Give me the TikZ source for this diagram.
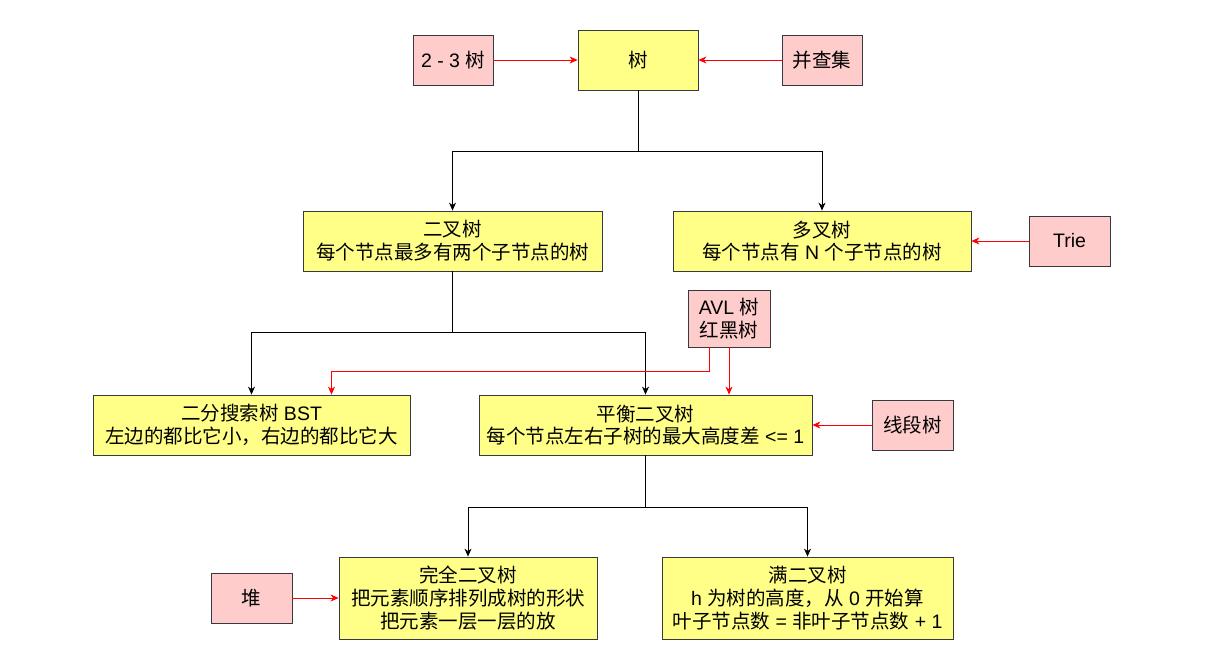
\documentclass[tikz,border=0pt]{standalone}
\usepackage{fontspec}
\setmainfont{Liberation Sans}
\newfontfamily\cjk{Noto Sans CJK SC}
\newcommand\zh[1]{{\cjk #1}}
\usetikzlibrary{arrows.meta}
\definecolor{yel}{HTML}{FFFF88}
\definecolor{pnk}{HTML}{FFCCCC}
\definecolor{bd}{HTML}{36393D}
\begin{document}
\begin{tikzpicture}[x=1pt,y=-1pt,
 box/.style={draw=bd, line width=0.8pt, inner sep=0pt, align=center, font=\fontsize{19.5}{22.8}\selectfont, anchor=center},
 ybox/.style={box, fill=yel},
 pbox/.style={box, fill=pnk},
 blk/.style={draw=black, line width=0.9pt, -{Stealth[length=8pt,width=7pt,inset=2.5pt]}},
 redarr/.style={draw=red, line width=0.8pt, -{Stealth[length=8pt,width=7pt,inset=2.5pt]}}
]
\useasboundingbox (0,0) rectangle (1206,670);
\node[ybox, minimum width=120pt, minimum height=60pt] (tree) at (638,60) {\zh{树}};
\node[pbox, minimum width=80pt, minimum height=50pt] (t23) at (453,60) {2 - 3 \zh{树}};
\node[pbox, minimum width=80pt, minimum height=50pt] (uf) at (822,60) {\zh{并查集}};
\node[ybox, minimum width=299pt, minimum height=60pt] (bin) at (452.5,241) {\zh{二叉树}\\\zh{每个节点最多有两个子节点的树}};
\node[ybox, minimum width=298pt, minimum height=60pt] (multi) at (822,241) {\zh{多叉树}\\\zh{每个节点有} N \zh{个子节点的树}};
\node[pbox, minimum width=81pt, minimum height=50pt] (trie) at (1069.5,241) {Trie};
\node[pbox, minimum width=82pt, minimum height=57pt] (avl) at (729,318.5) {AVL \zh{树}\\\zh{红黑树}};
\node[ybox, minimum width=317pt, minimum height=60pt] (bst) at (251.5,425) {\zh{二分搜索树} BST\\\zh{左边的都比它小，右边的都比它大}};
\node[ybox, minimum width=333pt, minimum height=60pt] (bal) at (645.5,425) {\zh{平衡二叉树}\\\zh{每个节点左右子树的最大高度差} <= 1};
\node[pbox, minimum width=81pt, minimum height=50pt] (seg) at (912.5,425) {\zh{线段树}};
\node[ybox, minimum width=258pt, minimum height=82pt] (full) at (468,598) {\zh{完全二叉树}\\\zh{把元素顺序排列成树的形状}\\\zh{把元素一层一层的放}};
\node[ybox, minimum width=291pt, minimum height=82pt] (fullb) at (807.5,598) {\zh{满二叉树}\\h \zh{为树的高度，从} 0 \zh{开始算}\\\zh{叶子节点数} = \zh{非叶子节点数} + 1};
\node[pbox, minimum width=81pt, minimum height=50pt] (heap) at (251.5,598) {\zh{堆}};
\draw[blk] (tree.south) -- ++(0,61) -| (bin.north);
\draw[blk] (tree.south) -- ++(0,61) -| (multi.north);
\draw[blk] (bin.south) -- ++(0,61) -| (bst.north);
\draw[blk] (bin.south) -- ++(0,61) -| (bal.north);
\draw[blk] (bal.south) -- ++(0,52) -| (full.north);
\draw[blk] (bal.south) -- ++(0,52) -| (fullb.north);
\draw[redarr] ([xshift=-20pt]avl.south) -- ++(0,24) -| ([xshift=80pt]bst.north);
\draw[redarr] (avl.south) -- (avl.south |- bal.north);
\draw[redarr] (t23.east) -- (tree.west);
\draw[redarr] (uf.west) -- (tree.east);
\draw[redarr] (trie.west) -- (multi.east);
\draw[redarr] (seg.west) -- (bal.east);
\draw[redarr] (heap.east) -- (full.west);
\end{tikzpicture}
\end{document}
